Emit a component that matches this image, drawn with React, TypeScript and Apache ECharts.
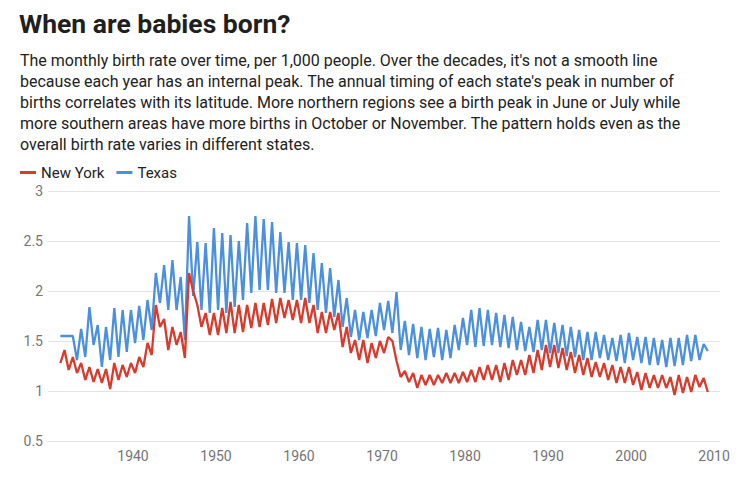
import React, { useEffect, useRef } from "react";
import * as echarts from "echarts";

// Semiannual samples (trough / peak of each year), starting 1931.25, step 0.5 year
const START_YEAR = 1931.25;
const STEP = 0.5;

const newYork = [
  1.28, 1.41, 1.21, 1.34, 1.18, 1.28, 1.11, 1.24, 1.09, 1.22, // 1931-1935
  1.08, 1.22, 1.02, 1.28, 1.11, 1.26, 1.14, 1.28, 1.18, 1.34, // 1936-1940
  1.24, 1.48, 1.36, 1.86, 1.64, 1.72, 1.41, 1.64, 1.46, 1.59, // 1941-1945
  1.33, 2.18, 2.0, 1.86, 1.64, 1.78, 1.56, 1.78, 1.56, 1.83, // 1946-1950
  1.58, 1.89, 1.58, 1.86, 1.59, 1.86, 1.63, 1.88, 1.64, 1.88, // 1951-1955
  1.66, 1.92, 1.68, 1.93, 1.73, 1.91, 1.71, 1.91, 1.68, 1.93, // 1956-1960
  1.68, 1.86, 1.58, 1.79, 1.58, 1.79, 1.61, 1.78, 1.44, 1.64, // 1961-1965
  1.38, 1.51, 1.31, 1.51, 1.28, 1.48, 1.33, 1.5, 1.38, 1.54, // 1966-1970
  1.5, 1.3, 1.14, 1.2, 1.09, 1.18, 1.03, 1.16, 1.06, 1.16, // 1971-1975
  1.06, 1.16, 1.08, 1.18, 1.08, 1.18, 1.08, 1.19, 1.09, 1.21, // 1976-1980
  1.09, 1.24, 1.11, 1.26, 1.11, 1.26, 1.09, 1.28, 1.11, 1.31, // 1981-1985
  1.16, 1.31, 1.16, 1.36, 1.18, 1.41, 1.21, 1.46, 1.24, 1.46, // 1986-1990
  1.23, 1.43, 1.21, 1.39, 1.18, 1.36, 1.16, 1.33, 1.14, 1.29, // 1991-1995
  1.14, 1.28, 1.11, 1.26, 1.08, 1.24, 1.08, 1.24, 1.06, 1.19, // 1996-2000
  1.01, 1.18, 1.03, 1.16, 1.03, 1.16, 1.03, 1.14, 0.96, 1.16, // 2001-2005
  0.98, 1.14, 0.99, 1.16, 1.04, 1.13, 0.99, // 2006-2009
];

const texas = [
  1.55, 1.55, 1.55, 1.55, 1.31, 1.62, 1.34, 1.84, 1.46, 1.66, // 1931-1935
  1.24, 1.64, 1.31, 1.83, 1.34, 1.81, 1.39, 1.81, 1.48, 1.85, // 1936-1940
  1.51, 1.91, 1.61, 2.18, 1.88, 2.26, 1.81, 2.31, 1.81, 2.14, // 1941-1945
  1.51, 2.75, 1.95, 2.49, 1.81, 2.48, 1.78, 2.63, 1.81, 2.58, // 1946-1950
  1.78, 2.56, 1.84, 2.5, 1.91, 2.68, 1.98, 2.75, 2.01, 2.72, // 1951-1955
  2.01, 2.69, 1.98, 2.59, 1.98, 2.49, 1.91, 2.48, 1.91, 2.46, // 1956-1960
  1.88, 2.38, 1.81, 2.28, 1.78, 2.23, 1.74, 2.11, 1.64, 1.93, // 1961-1965
  1.54, 1.81, 1.51, 1.79, 1.53, 1.81, 1.55, 1.88, 1.61, 1.9, // 1966-1970
  1.58, 1.99, 1.41, 1.7, 1.36, 1.67, 1.33, 1.64, 1.31, 1.62, // 1971-1975
  1.34, 1.63, 1.31, 1.61, 1.33, 1.66, 1.41, 1.73, 1.46, 1.81, // 1976-1980
  1.44, 1.83, 1.45, 1.81, 1.46, 1.78, 1.44, 1.76, 1.43, 1.74, // 1981-1985
  1.41, 1.69, 1.4, 1.64, 1.39, 1.71, 1.41, 1.71, 1.38, 1.68, // 1986-1990
  1.38, 1.66, 1.35, 1.64, 1.34, 1.61, 1.31, 1.59, 1.31, 1.59, // 1991-1995
  1.33, 1.56, 1.31, 1.53, 1.3, 1.56, 1.28, 1.58, 1.31, 1.54, // 1996-2000
  1.28, 1.54, 1.26, 1.53, 1.26, 1.51, 1.24, 1.53, 1.25, 1.53, // 2001-2005
  1.26, 1.56, 1.3, 1.56, 1.31, 1.47, 1.4, // 2006-2009
];

const yearTicks = [1940, 1950, 1960, 1970, 1980, 1990, 2000, 2010];
const seriesNames = ["New York", "Texas"];
const seriesColors = ["#d93a2b", "#4a8fe0"];

const titleText = "When are babies born?";
const subtitleLines = [
  "The monthly birth rate over time, per 1,000 people. Over the decades, it's not a smooth line",
  "because each year has an internal peak. The annual timing of each state's peak in number of",
  "births correlates with its latitude. More northern regions see a birth peak in June or July while",
  "more southern areas have more births in October or November. The pattern holds even as the",
  "overall birth rate varies in different states.",
];

const toPoints = (values: number[]) =>
  values.map((v, i) => [START_YEAR + i * STEP, v]);

export default function App() {
  const ref = useRef<HTMLDivElement>(null);

  useEffect(() => {
    if (!ref.current) return;
    const chart = echarts.init(ref.current, undefined, { renderer: "svg" });
    const font = "Roboto";
    chart.setOption({
      animation: false,
      backgroundColor: "#ffffff",
      textStyle: { fontFamily: font },
      title: {
        text: titleText,
        left: 14,
        top: 5,
        textStyle: {
          fontFamily: font,
          fontSize: 26.5,
          fontWeight: "bold",
          color: "#1f1f1f",
        },
      },
      graphic: [
        {
          type: "text",
          left: 20,
          top: 50,
          style: {
            text: subtitleLines.join("\n"),
            font: `16px ${font}`,
            lineHeight: 21,
            fill: "#222222",
          },
        },
      ],
      legend: {
        left: 15,
        top: 160,
        icon: "rect",
        itemWidth: 16,
        itemHeight: 3,
        itemGap: 12,
        textStyle: { fontFamily: font, fontSize: 15, color: "#222222" },
        data: seriesNames,
      },
      grid: { left: 48, right: 28, top: 191, bottom: 41, containLabel: false },
      xAxis: {
        type: "value",
        min: 1929.76,
        max: 2010.72,
        axisLine: { show: false },
        axisTick: { show: false },
        splitLine: { show: false },
        axisLabel: {
          customValues: yearTicks,
          color: "#757575",
          fontSize: 14,
          fontFamily: font,
          margin: 8,
          formatter: (v: number) => String(Math.round(v)),
        },
      },
      yAxis: {
        type: "value",
        min: 0.5,
        max: 3,
        interval: 0.5,
        axisLine: { show: false },
        axisTick: { show: false },
        splitLine: { lineStyle: { color: "#e3e3e3", width: 1 } },
        axisLabel: { color: "#757575", fontSize: 14, fontFamily: font, margin: 5 },
      },
      series: [
        {
          name: seriesNames[0],
          type: "line",
          data: toPoints(newYork),
          showSymbol: false,
          symbol: "none",
          lineStyle: { color: seriesColors[0], width: 2.3 },
          itemStyle: { color: seriesColors[0] },
          z: 3,
        },
        {
          name: seriesNames[1],
          type: "line",
          data: toPoints(texas),
          showSymbol: false,
          symbol: "none",
          lineStyle: { color: seriesColors[1], width: 2.3 },
          itemStyle: { color: seriesColors[1] },
          z: 2,
        },
      ],
    });
    return () => chart.dispose();
  }, []);

  return (
    <div
      ref={ref}
      style={{ position: "fixed", left: 0, top: 0, width: 748, height: 482 }}
    />
  );
}
